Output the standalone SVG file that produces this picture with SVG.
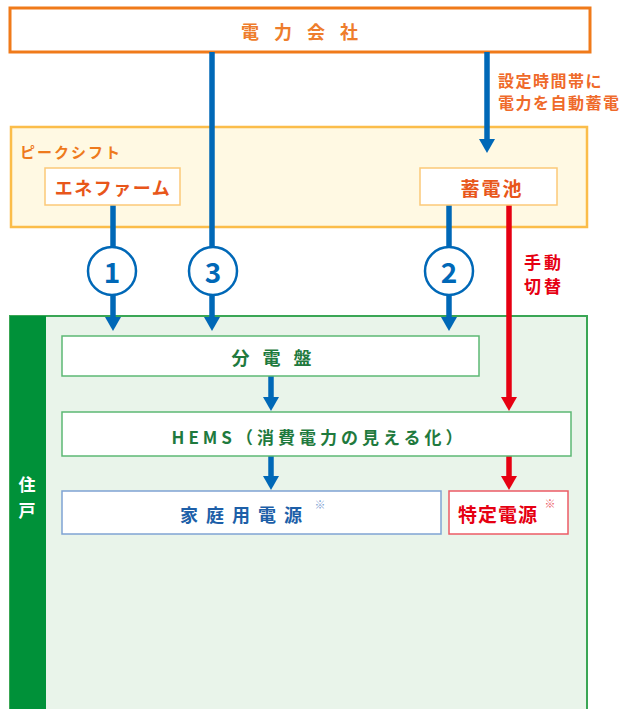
<svg xmlns="http://www.w3.org/2000/svg" width="636" height="709" viewBox="0 0 636 709">
<style>
text{font-family:"Noto Sans CJK JP","Noto Sans",sans-serif;font-weight:bold;text-anchor:middle;dominant-baseline:central}
.blue{stroke:#0068b7;stroke-width:5.5;fill:none}
.red{stroke:#e60012;stroke-width:5.5;fill:none}
.inner-o{fill:#fff;stroke:#fcc978;stroke-width:1.5}
.inner-g{fill:#fff;stroke:#5cb874;stroke-width:1.5}
.num{fill:#fff;stroke:#0068b7;stroke-width:2.5}
</style>
<defs>
<marker id="ab" markerUnits="userSpaceOnUse" markerWidth="16" markerHeight="16" refX="0" refY="8" orient="auto" viewBox="0 0 14 16">
<path d="M0,0 L14,8 L0,16 z" fill="#0068b7"/>
</marker>
<marker id="ar" markerUnits="userSpaceOnUse" markerWidth="16" markerHeight="16" refX="0" refY="8" orient="auto" viewBox="0 0 14 16">
<path d="M0,0 L14,8 L0,16 z" fill="#e60012"/>
</marker>
</defs>
<rect width="636" height="709" fill="#fff"/>

<g id="power-company">
<rect x="10" y="8" width="580" height="44" fill="#fff" stroke="#f07a1a" stroke-width="3"/>
<text x="307" y="31" font-size="18" letter-spacing="15" fill="#ee7d2c">電力会社</text>
</g>

<g id="peak-shift">
<rect x="11" y="127" width="576" height="100" fill="#fff9e3" stroke="#fbbd4a" stroke-width="2.5"/>
<text x="20" y="151" font-size="15" letter-spacing="2" fill="#ee7a1c" style="text-anchor:start">ピークシフト</text>
</g>

<g id="house">
<rect x="10" y="316" width="577" height="395" fill="#e9f4ea" stroke="#3aa655" stroke-width="2"/>
<rect x="10" y="316" width="36" height="395" fill="#009139"/>
<text x="27" y="483" font-size="17" fill="#fff">住</text>
<text x="27" y="509" font-size="17" fill="#fff">戸</text>
</g>

<g id="connectors">
<line class="blue" x1="212" y1="52" x2="212" y2="317" marker-end="url(#ab)"/>
<line class="blue" x1="487" y1="52" x2="487" y2="139" marker-end="url(#ab)"/>
<line class="blue" x1="113" y1="205" x2="113" y2="317" marker-end="url(#ab)"/>
<line class="blue" x1="449" y1="205" x2="449" y2="317" marker-end="url(#ab)"/>
<line class="red" x1="509" y1="205" x2="509" y2="397" marker-end="url(#ar)"/>
<line class="blue" x1="271" y1="376" x2="271" y2="397" marker-end="url(#ab)"/>
<line class="blue" x1="271" y1="456" x2="271" y2="476" marker-end="url(#ab)"/>
<line class="red" x1="509" y1="456" x2="509" y2="476" marker-end="url(#ar)"/>
<text x="498" y="80" font-size="16" letter-spacing="1.5" fill="#ef6a2a" style="text-anchor:start">設定時間帯に</text>
<text x="498" y="102" font-size="16" letter-spacing="1.5" fill="#ef6a2a" style="text-anchor:start">電力を自動蓄電</text>
<text x="544" y="261" font-size="17" letter-spacing="3" fill="#e60012">手動</text>
<text x="544" y="285" font-size="17" letter-spacing="3" fill="#e60012">切替</text>
</g>

<g id="enefarm">
<rect class="inner-o" x="45" y="168" width="135" height="37"/>
<text x="113" y="187" font-size="18" letter-spacing="1.5" fill="#e8561a">エネファーム</text>
</g>

<g id="battery">
<rect class="inner-o" x="420" y="168" width="137" height="37"/>
<text x="492" y="187" font-size="19" letter-spacing="2" fill="#e8561a">蓄電池</text>
</g>

<g id="route1">
<circle class="num" cx="112" cy="271" r="24"/>
<text x="112" y="271" font-size="28" fill="#0068b7">1</text>
</g>
<g id="route3">
<circle class="num" cx="213" cy="271" r="24"/>
<text x="213" y="271" font-size="28" fill="#0068b7">3</text>
</g>
<g id="route2">
<circle class="num" cx="449" cy="271" r="24"/>
<text x="449" y="271" font-size="28" fill="#0068b7">2</text>
</g>

<g id="distribution-board">
<rect class="inner-g" x="62" y="336" width="417" height="40"/>
<text x="278" y="357" font-size="18" letter-spacing="13" fill="#1f7a3e">分電盤</text>
</g>

<g id="hems">
<rect class="inner-g" x="62" y="412" width="509" height="44"/>
<text x="319" y="436" font-size="17" letter-spacing="4" fill="#1f7a3e">HEMS（消費電力の見える化）</text>
</g>

<g id="home-power">
<rect x="62" y="491" width="379" height="43" fill="#fff" stroke="#7fa3d3" stroke-width="1.5"/>
<text x="245" y="514" font-size="18" letter-spacing="8" fill="#1d5fa8">家庭用電源</text>
<text x="320" y="504" font-size="11" fill="#7fa3d3">※</text>
</g>

<g id="specific-power">
<rect x="449" y="491" width="119" height="43" fill="#fff" stroke="#ec5b66" stroke-width="1.5"/>
<text x="498" y="513" font-size="19" letter-spacing="1" fill="#e60012">特定電源</text>
<text x="550" y="503" font-size="11" fill="#ec5b66">※</text>
</g>
</svg>
